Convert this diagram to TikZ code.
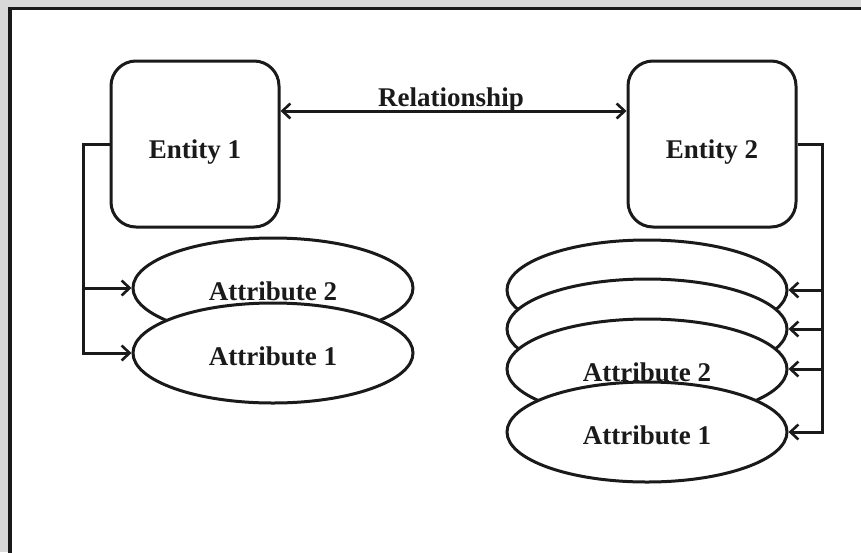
\documentclass[tikz,border=0pt]{standalone}
\usepackage{fontspec}
\setmainfont{Liberation Serif}
\usetikzlibrary{shapes.geometric,arrows.meta}
\definecolor{ink}{HTML}{1A1A1A}
\definecolor{margin}{HTML}{D9D9D9}
\begin{document}
\begin{tikzpicture}[x=1pt,y=-1pt,
  every node/.style={font=\fontsize{27}{32}\selectfont\bfseries, text=ink},
  entity/.style={draw=ink, line width=3pt, rounded corners=25pt, fill=white,
    minimum width=168pt, minimum height=166pt, inner sep=0pt,
    text height=28pt, text depth=0pt},
  attr/.style={draw=ink, line width=3pt, ellipse, fill=white,
    minimum width=280pt, minimum height=100pt, inner sep=0pt,
    text height=24pt, text depth=0pt},
  link/.style={draw=ink, line width=3pt, line join=miter},
  tip/.style={-{Straight Barb[length=8pt,width=15pt,line width=2.6pt]}},
  bothtips/.style={{Straight Barb[length=8pt,width=15pt,line width=2.6pt]}-{Straight Barb[length=8pt,width=15pt,line width=2.6pt]}}]
\useasboundingbox (0,0) rectangle (861,552);
\clip (0,0) rectangle (861,552);
% page margin and frame
\fill[margin] (0,0) rectangle (861,552);
\draw[ink, line width=3.5pt, fill=white] (10,8.5) rectangle (900,600);

% entities
\node[entity] (e1) at (195,144) {Entity 1};
\node[entity] (e2) at (712,144) {Entity 2};

% relationship
\draw[link, bothtips] ([yshift=33pt]e1.east) -- ([yshift=33pt]e2.west);
\node[anchor=base, inner sep=0pt] (rel) at (451,106) {Relationship};

% attributes of entity 1
\node[attr] (a2) at (273,288) {Attribute 2};
\node[attr] (a1) at (273,353) {Attribute 1};

% attributes of entity 2 (stacked)
\node[attr] (r4) at (647,290) {};
\node[attr] (r3) at (647,329) {Attribute 3};
\node[attr] (r2) at (647,369) {Attribute 2};
\node[attr] (r1) at (647,432) {Attribute 1};

% left bus
\coordinate (lbus) at (83,0);
\draw[link, tip] (e1.west) -- (e1.west -| lbus) |- (a1.west);
\draw[link, tip] (a2.west -| lbus) -- (a2.west);

% right bus
\coordinate (rbus) at (822,0);
\draw[link, tip] (e2.east) -- (e2.east -| rbus) |- (r1.east);
\draw[link, tip] (r4.east -| rbus) -- (r4.east);
\draw[link, tip] (r3.east -| rbus) -- (r3.east);
\draw[link, tip] (r2.east -| rbus) -- (r2.east);
\end{tikzpicture}
\end{document}
